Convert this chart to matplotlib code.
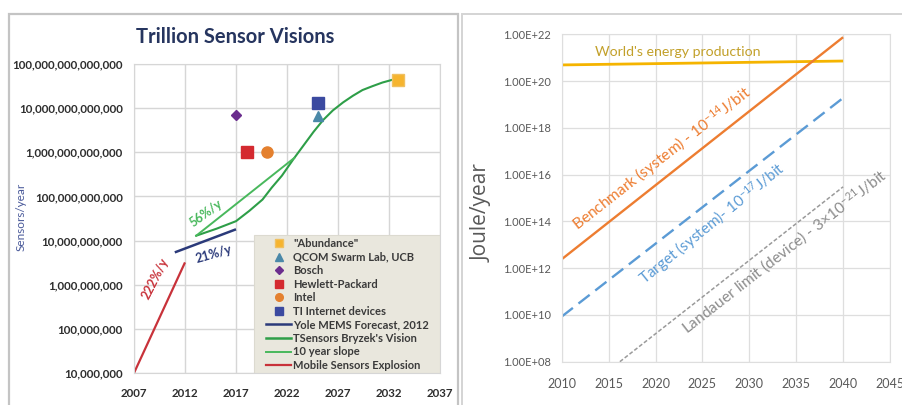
import matplotlib
matplotlib.use('Agg')
import matplotlib.pyplot as plt
from matplotlib.patches import Rectangle
from matplotlib.lines import Line2D
import matplotlib.ticker as mticker

plt.rcParams['font.family'] = ['Lato', 'DejaVu Sans']
plt.rcParams['mathtext.default'] = 'regular'

# ---------------- data: left panel (Trillion Sensor Visions) ----------------
mobile_years = [2007, 2012]
mobile_vals = [1e7, 3.2e9]
yole_years = [2011, 2017]
yole_vals = [5.4e9, 1.8e10]
slope_years = [2013.1, 2022.7]
slope_vals = [1.29e10, 7.4e11]
tsensors_years = [2013.1, 2015.1, 2017.0, 2018.3, 2019.6, 2020.5, 2021.5, 2022.65,
                  2023.6, 2024.6, 2025.55, 2026.5, 2027.5, 2028.45, 2029.4, 2030.4,
                  2031.35, 2032.3]
tsensors_vals = [1.29e10, 1.86e10, 2.75e10, 4.7e10, 8.5e10, 1.58e11, 2.95e11, 7.1e11,
                 1.41e12, 2.9e12, 5.4e12, 8.9e12, 1.35e13, 1.9e13, 2.57e13, 3.16e13,
                 3.8e13, 4.37e13]

point_names = ['"Abundance"', 'QCOM Swarm Lab, UCB', 'Bosch', 'Hewlett-Packard', 'Intel', 'TI Internet devices']
point_years = [2032.9, 2025.0, 2017.0, 2018.1, 2020.0, 2025.0]
point_vals = [4.4e13, 6.5e12, 7.0e12, 1.0e12, 1.0e12, 1.3e13]

left_xticks = [2007, 2012, 2017, 2022, 2027, 2032, 2037]
left_yticks = [1e7, 1e8, 1e9, 1e10, 1e11, 1e12, 1e13, 1e14]
left_ylabels = ['10,000,000', '100,000,000', '1,000,000,000', '10,000,000,000',
                '100,000,000,000', '1,000,000,000,000', '10,000,000,000,000',
                '100,000,000,000,000']

# ---------------- data: right panel (energy) ----------------
energy_years = [2010, 2040]
energy_vals = [4.9e20, 7.2e20]
bench_years = [2010, 2040]
bench_vals = [2.4e12, 7.5e21]
target_years = [2010, 2040]
target_vals = [8.5e9, 1.9e19]
landauer_years = [2016.2, 2040]
landauer_vals = [1e8, 3e15]

right_xticks = [2010, 2015, 2020, 2025, 2030, 2035, 2040, 2045]
right_yticks = [1e8, 1e10, 1e12, 1e14, 1e16, 1e18, 1e20, 1e22]
right_ylabels = ['1.00E+08', '1.00E+10', '1.00E+12', '1.00E+14', '1.00E+16',
                 '1.00E+18', '1.00E+20', '1.00E+22']

# ---------------- figure ----------------
W, H = 903, 405
fig = plt.figure(figsize=(9.03, 4.05), dpi=100)
fig.patch.set_facecolor('white')

def fx(px):
    return px / W

def fy(py):
    return 1 - py / H

# panel frames
fig.add_artist(Rectangle((fx(9.5), fy(410)), fx(457.5) - fx(9.5), fy(14) - fy(410),
                         transform=fig.transFigure, fill=False, ec='#c4c4c4', lw=1.6))
fig.add_artist(Rectangle((fx(461.5), fy(410)), fx(906) - fx(461.5), fy(14) - fy(410),
                         transform=fig.transFigure, fill=False, ec='#d4d4d4', lw=1.4))

# ================= left panel =================
ax1 = fig.add_axes([fx(134), fy(373), fx(440) - fx(134), fy(64) - fy(373)])
ax1.set_yscale('log')
ax1.set_xlim(2007, 2037)
ax1.set_ylim(1e7, 1e14)
ax1.set_xticks(left_xticks)
ax1.set_yticks(left_yticks)
ax1.yaxis.set_major_formatter(mticker.FixedFormatter(left_ylabels))
ax1.yaxis.set_minor_locator(mticker.NullLocator())
ax1.grid(True, color='#d6d6d6', lw=1.0)
ax1.set_axisbelow(True)
for s in ax1.spines.values():
    s.set_color('#d6d6d6')
ax1.tick_params(length=0, labelsize=8.3, colors='#2e2e2e')
ax1.tick_params(axis='y', pad=8)
ax1.tick_params(axis='x', pad=11)
for lab in ax1.get_xticklabels() + ax1.get_yticklabels():
    lab.set_fontweight('bold')

c_mobile = '#c8323a'
c_yole = '#2b3a7a'
c_ts = '#2e9e48'
c_slope = '#48b85c'

ax1.plot(mobile_years, mobile_vals, color=c_mobile, lw=1.6, solid_capstyle='butt')
ax1.plot(yole_years, yole_vals, color=c_yole, lw=1.8, solid_capstyle='butt')
ax1.plot(tsensors_years, tsensors_vals, color=c_ts, lw=1.5, solid_joinstyle='round')
ax1.plot(slope_years, slope_vals, color=c_slope, lw=1.4)

point_styles = [
    dict(marker='s', mfc='#f6b42e', mec='#f0c060', ms=9),
    dict(marker='^', mfc='#4a88a8', mec='#4a88a8', ms=7),
    dict(marker='D', mfc='#6b2d8e', mec='#6b2d8e', ms=5.5),
    dict(marker='s', mfc='#d42a30', mec='#d42a30', ms=8),
    dict(marker='o', mfc='#e4802e', mec='#e4802e', ms=8),
    dict(marker='s', mfc='#3b4aa0', mec='#3b4aa0', ms=8.5),
]
handles = []
for name, yr, v, st in zip(point_names, point_years, point_vals, point_styles):
    ax1.plot([yr], [v], ls='none', zorder=5, **st)
    hst = dict(st)
    hst['ms'] = 5.5 if st['marker'] != 'D' else 4.2
    handles.append(Line2D([], [], ls='none', label=name, **hst))
handles.append(Line2D([], [], color=c_yole, lw=1.8, label='Yole MEMS Forecast, 2012'))
handles.append(Line2D([], [], color=c_ts, lw=1.8, label="TSensors Bryzek's Vision"))
handles.append(Line2D([], [], color=c_slope, lw=1.4, label='10 year slope'))
handles.append(Line2D([], [], color=c_mobile, lw=1.6, label='Mobile Sensors Explosion'))

# legend background box
ax1.add_patch(Rectangle((0.392, 0.0), 0.608, 0.447, transform=ax1.transAxes,
                        facecolor='#e9e7dd', edgecolor='#dcdad0', lw=0.8, zorder=2.5))
leg = ax1.legend(handles=handles, loc='upper left', bbox_to_anchor=(0.4307, 0.437),
                 prop={'family': ['Lato', 'DejaVu Sans'], 'weight': 'bold', 'size': 8},
                 frameon=False, labelspacing=0.23,
                 handlelength=2.3, handletextpad=0.15, borderpad=0.0, borderaxespad=0.0)
leg.set_zorder(6)
for t in leg.get_texts():
    t.set_color('#3a3a3a')

ax1.text(2014.1, 10 ** 10.62, '56%/y', color=c_slope, fontsize=9, fontweight='bold',
         rotation=36, ha='center', va='center', rotation_mode='anchor')
ax1.text(2014.8, 10 ** 9.70, '21%/y', color=c_yole, fontsize=9, fontweight='bold',
         rotation=16, ha='center', va='center', rotation_mode='anchor')
ax1.text(2009.1, 10 ** 9.15, '222%/y', color=c_mobile, fontsize=9, fontweight='bold',
         rotation=63, ha='center', va='center', rotation_mode='anchor')

fig.text(fx(235), fy(37), 'Trillion Sensor Visions', color='#26355f', fontsize=14.5,
         fontweight='bold', ha='center', va='center')
fig.text(fx(21), fy(217), 'Sensors/year', color='#4a5a9a', fontsize=8.5,
         rotation=90, ha='center', va='center')

# ================= right panel =================
ax2 = fig.add_axes([fx(561.7), fy(361.7), fx(890) - fx(561.7), fy(34.3) - fy(361.7)])
ax2.set_yscale('log')
ax2.set_xlim(2010, 2045)
ax2.set_ylim(1e8, 1e22)
ax2.set_xticks(right_xticks)
ax2.set_yticks(right_yticks)
ax2.yaxis.set_major_formatter(mticker.FixedFormatter(right_ylabels))
ax2.yaxis.set_minor_locator(mticker.NullLocator())
ax2.grid(True, color='#dedede', lw=0.9)
ax2.set_axisbelow(True)
for s in ax2.spines.values():
    s.set_color('#dedede')
ax2.tick_params(length=0, colors='#595959')
ax2.tick_params(axis='y', pad=8, labelsize=8)
ax2.tick_params(axis='x', pad=12, labelsize=9)

ax2.plot(energy_years, energy_vals, color='#f5b400', lw=2.0, solid_capstyle='butt')
ax2.plot(bench_years, bench_vals, color='#ed7d31', lw=1.7, solid_capstyle='butt')
ax2.plot(target_years, target_vals, color='#5b9bd5', lw=1.7, dashes=(6, 3))
ax2.plot(landauer_years, landauer_vals, color='#9a9a9a', lw=1.1, dashes=(2.6, 1.4))

ax2.text(2022.4, 10 ** 21.26, "World's energy production", color='#c2a02a', fontsize=10.2,
         ha='center', va='center')
ax2.text(2020.7, 10 ** 16.70, 'Benchmark (system) - 10$^{-14}$J/bit', color='#ed7d31',
         fontsize=11.2, rotation=38, ha='center', va='center', rotation_mode='anchor')
ax2.text(2026.0, 10 ** 13.92, 'Target (system)- 10$^{-17}$J/bit', color='#5b9bd5',
         fontsize=11, rotation=39, ha='center', va='center', rotation_mode='anchor')
ax2.text(2033.8, 10 ** 12.72, 'Landauer limit (device) - 3\u00d710$^{-21}$J/bit',
         color='#8c8c8c', fontsize=11.2, rotation=38, ha='center',
         va='center', rotation_mode='anchor')

fig.text(fx(481.7), fy(213), 'Joule/year', color='#595959', fontsize=15,
         family=['Open Sans', 'DejaVu Sans'], rotation=90, ha='center', va='center')

fig.savefig('out.png', dpi=100)
